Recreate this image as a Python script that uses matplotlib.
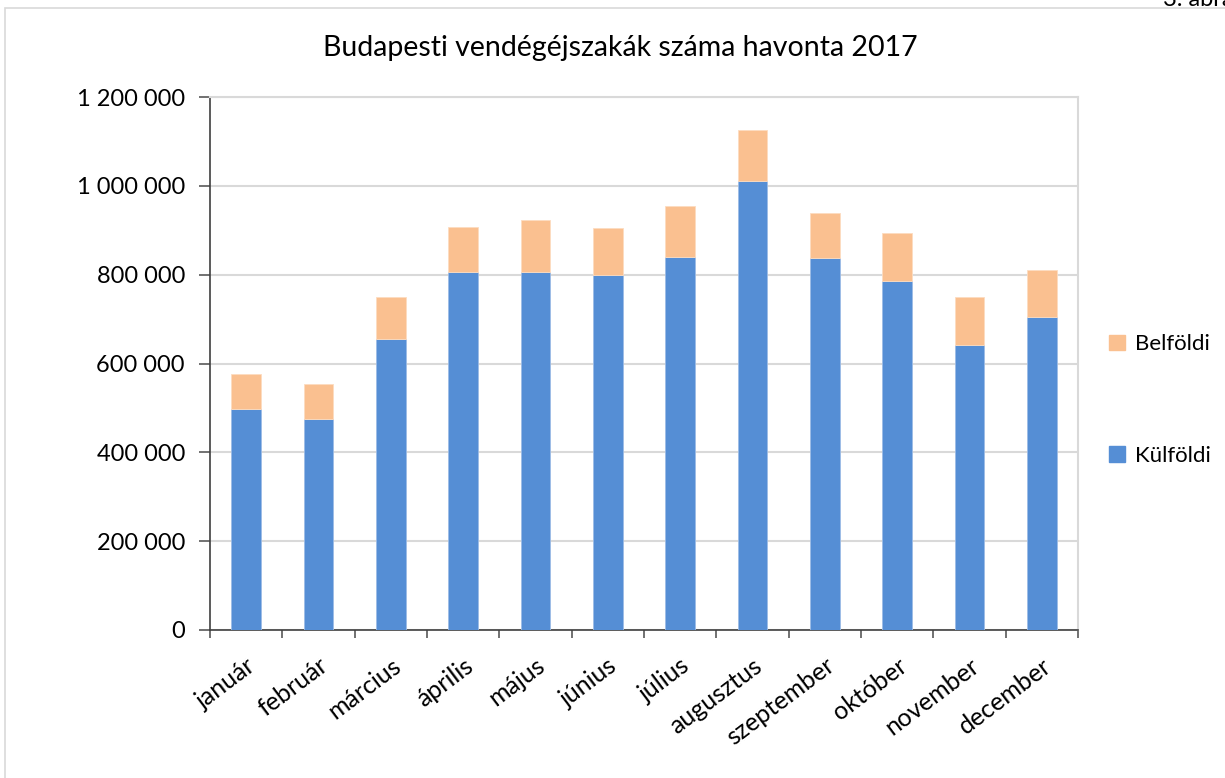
import numpy as np
import matplotlib
matplotlib.use('Agg')
import matplotlib.pyplot as plt
from matplotlib.patches import Rectangle, Patch

plt.rcParams['font.family'] = ['Lato', 'DejaVu Sans']

months = ['január', 'február', 'március', 'április', 'május', 'június',
          'július', 'augusztus', 'szeptember', 'október', 'november', 'december']
kulfoldi = [497000, 475000, 655000, 806000, 806000, 799000,
            840000, 1011000, 837000, 786000, 642000, 705000]
osszes = [576000, 554000, 750000, 908000, 922000, 905000,
          954000, 1125000, 939000, 893000, 750000, 810000]
belfoldi = [t - k for t, k in zip(osszes, kulfoldi)]
yticks = [0, 200000, 400000, 600000, 800000, 1000000, 1200000]
ytick_labels = ['0', '200 000', '400 000', '600 000', '800 000', '1 000 000', '1 200 000']

blue = '#558ED5'
orange = '#FAC090'

fig = plt.figure(figsize=(12.25, 7.78), dpi=100)
ax = fig.add_axes([210/1225, 1 - 630/778, (1078-210)/1225, (630-97)/778])

x = np.arange(len(months))
ax.bar(x, kulfoldi, width=0.41, color=blue, edgecolor='#9DBCE6', linewidth=0.6, zorder=3)
ax.bar(x, belfoldi, width=0.41, bottom=kulfoldi, color=orange, edgecolor='#FDDCC0',
       linewidth=0.6, zorder=3)

ax.set_xlim(-0.5, len(months) - 0.5)
ax.set_ylim(0, 1200000)
ax.set_yticks(yticks)
ax.set_yticklabels(ytick_labels, fontsize=17)
ax.yaxis.grid(True, color='#D9D9D9', linewidth=1.5, zorder=0)
ax.set_axisbelow(True)

ax.set_xticks(x)
ax.set_xticklabels(months, fontsize=18, rotation=37, ha='right', rotation_mode='anchor')
ax.tick_params(axis='x', which='major', length=0, pad=17)
ax.set_xticks(np.arange(-0.5, len(months)), minor=True)
ax.tick_params(axis='x', which='minor', length=6, width=1.2, color='#595959')
ax.tick_params(axis='y', length=8, width=1.2, color='#595959', pad=10)

for side in ['left', 'bottom']:
    ax.spines[side].set_color('#404040')
    ax.spines[side].set_linewidth(1.2)
for side in ['top', 'right']:
    ax.spines[side].set_color('#D9D9D9')
    ax.spines[side].set_linewidth(1.5)

fig.text(620/1225, 1 - 48/778, 'Budapesti vendégéjszakák száma havonta 2017',
         ha='center', va='center', fontsize=20.5)

handles = [Patch(color=orange, label='Belföldi'), Patch(color=blue, label='Külföldi')]
fig.legend(handles=handles, loc='center left', bbox_to_anchor=(1109/1225, 1 - 400/778),
           frameon=False, fontsize=16, labelspacing=4.1, handlelength=0.7,
           handleheight=0.7, handletextpad=0.45, borderaxespad=0, borderpad=0)

# outer chart border and caption cut at the top edge
fig.patches.append(Rectangle((5/1225, -0.01), 1.02, 1 - 8/778 + 0.01,
                             transform=fig.transFigure, fill=False,
                             edgecolor='#D9D9D9', linewidth=1.2))
fig.text(1163/1225, 1.0, '3. ábra', ha='left', va='center', fontsize=17)

fig.savefig('out.png', dpi=100)
